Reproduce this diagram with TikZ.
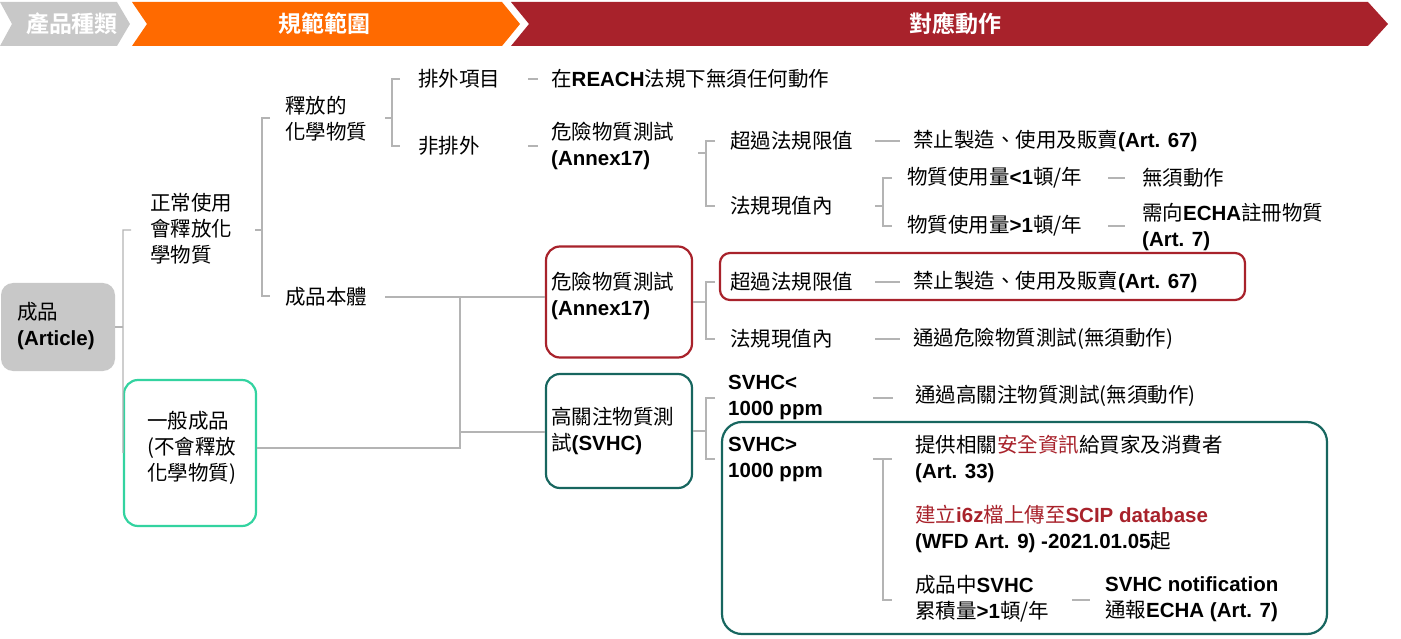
\documentclass[tikz,border=0pt]{standalone}
\usepackage{fontspec}
\setmainfont{Noto Sans CJK TC}
\newfontfamily\cjkb{Noto Sans CJK TC Bold}
\newfontfamily\lat{Liberation Sans}
\newcommand\B[1]{{\lat\bfseries #1}}
\definecolor{hgray}{HTML}{C8C8C8}
\definecolor{horange}{HTML}{FF6A00}
\definecolor{hred}{HTML}{A8222B}
\definecolor{hteal}{HTML}{17665F}
\definecolor{hgreen}{HTML}{33D3A0}
\definecolor{lgray}{HTML}{B4B4B4}
\begin{document}
\begin{tikzpicture}[x=1pt,y=-1pt,
  t/.style={anchor=west,inner sep=0pt,align=left,font=\fontsize{20.5}{26}\selectfont},
  ln/.style={draw=lgray,line width=1.2pt},
  hd/.style={text=white,font=\cjkb\fontsize{23}{26}\selectfont,inner sep=0pt}]
\useasboundingbox (0,0) rectangle (1401,639);
% header
\fill[hgray] (0,2) -- (117,2) -- (130,24) -- (117,46) -- (0,46) -- (12,24) -- cycle;
\fill[horange] (132,2) -- (502,2) -- (520,24) -- (502,46) -- (132,46) -- (147,24) -- cycle;
\fill[hred] (511,2) -- (1368,2) -- (1388,24) -- (1368,46) -- (511,46) -- (529,24) -- cycle;
\node[hd] (h1) at (72,24) {產品種類};
\node[hd] (h2) at (324,24) {規範範圍};
\node[hd] (h3) at (955,24) {對應動作};
% boxes
\node[fill=hgray,rounded corners=12pt,minimum width=114pt,minimum height=88pt,inner sep=0pt] (art) at (58,327) {};
\node[t] (artt) at (17,326) {成品\\\B{(Article)}};
\node[draw=hgreen,line width=2.2pt,rounded corners=14pt,minimum width=132pt,minimum height=146pt] (gen) at (190,453) {};
\node[t] (gent) at (147,448) {一般成品\\(不會釋放\\化學物質)};
\node[t] (norm) at (150,229) {正常使用\\會釋放化\\學物質};
\node[t] (rel) at (285,119) {釋放的\\化學物質};
\node[t] (body) at (285,297) {成品本體};
\node[t] (exc) at (418,79) {排外項目};
\node[t] (nexc) at (418,146) {非排外};
\node[t] (reach) at (551,79) {在\B{REACH}法規下無須任何動作};
\node[t] (ann1) at (551,146) {危險物質測試\\\B{(Annex17)}};
\node[t] (over1) at (730,141) {超過法規限值};
\node[t] (ban1) at (913,141) {禁止製造、使用及販賣\B{(Art. 67)}};
\node[t] (in1) at (730,206) {法規現值內};
\node[t] (lt1) at (907,178) {物質使用量\B{<1}頓/年};
\node[t] (gt1) at (907,226) {物質使用量\B{>1}頓/年};
\node[t] (none) at (1142,178) {無須動作};
\node[t] (reg) at (1142,227) {需向\B{ECHA}註冊物質\\\B{(Art. 7)}};
\node[draw=hred,line width=2.2pt,rounded corners=14pt,minimum width=146pt,minimum height=111pt] (annbox) at (619,302) {};
\node[t] (ann2) at (551,296) {危險物質測試\\\B{(Annex17)}};
\node[draw=hteal,line width=2.2pt,rounded corners=14pt,minimum width=146pt,minimum height=114pt] (svbox) at (619,431) {};
\node[t] (sv) at (551,431) {高關注物質測\\試\B{(SVHC)}};
\node[draw=hred,line width=2.2pt,rounded corners=10pt,minimum width=525pt,minimum height=47pt] (banbox) at (982.5,276.5) {};
\node[t] (over2) at (730,282) {超過法規限值};
\node[t] (ban2) at (913,282) {禁止製造、使用及販賣\B{(Art. 67)}};
\node[t] (in2) at (730,339) {法規現值內};
\node[t] (pass1) at (913,339) {通過危險物質測試(無須動作)};
\node[t] (svlt) at (728,397) {\B{SVHC<}\\\B{1000 ppm}};
\node[t] (pass2) at (915,396) {通過高關注物質測試(無須動作)};
\node[draw=hteal,line width=2.2pt,rounded corners=20pt,minimum width=605pt,minimum height=212pt] (bigbox) at (1024.5,528) {};
\node[t] (svgt) at (728,459) {\B{SVHC>}\\\B{1000 ppm}};
\node[t] (info) at (915,459) {提供相關\textcolor{hred}{安全資訊}給買家及消費者\\\B{(Art. 33)}};
\node[t] (scip) at (915,529) {\textcolor{hred}{建立\B{i6z}檔上傳至\B{SCIP database}}\\\B{(WFD Art. 9) -2021.01.05}起};
\node[t] (cum) at (915,599) {成品中\B{SVHC}\\累積量\B{>1}頓/年};
\node[t] (notif) at (1105,599) {\B{SVHC notification}\\通報\B{ECHA (Art. 7)}};
% connectors
\draw[ln] (art.east) -- (123,327);
\draw[ln] (131,230) -- (123,230) -- (123,448) -- (gen.west);
\draw[ln] (255,230) -- (262,230);
\draw[ln] (270,118) -- (262,118) -- (262,296) -- (270,296);
\draw[ln] (385,118) -- (392,118);
\draw[ln] (400,79) -- (392,79) -- (392,146) -- (400,146);
\draw[ln] (528,79) -- (538,79);
\draw[ln] (528,146) -- (538,146);
\draw[ln] (698,153) -- (706,153);
\draw[ln] (715,141) -- (706,141) -- (706,206) -- (715,206);
\draw[ln] (875,141) -- (900,141);
\draw[ln] (875,206) -- (883,206);
\draw[ln] (892,178) -- (883,178) -- (883,226) -- (892,226);
\draw[ln] (1108,178) -- (1125,178);
\draw[ln] (1108,226) -- (1125,226);
\draw[ln] (385,297) -- (annbox.west |- 0,297);
\draw[ln] (gen.east |- 0,448) -- (460,448) -- (460,297);
\draw[ln] (460,432) -- (svbox.west |- 0,432);
\draw[ln] (annbox.east |- 0,302) -- (706,302);
\draw[ln] (715,282) -- (706,282) -- (706,339) -- (715,339);
\draw[ln] (875,282) -- (900,282);
\draw[ln] (875,339) -- (900,339);
\draw[ln] (svbox.east |- 0,431) -- (706,431);
\draw[ln] (715,398) -- (706,398) -- (706,459) -- (715,459);
\draw[ln] (873,398) -- (893,398);
\draw[ln] (873,459) -- (892,459);
\draw[ln] (883,459) -- (883,600) -- (892,600);
\draw[ln] (1072,600) -- (1090,600);
\end{tikzpicture}
\end{document}
